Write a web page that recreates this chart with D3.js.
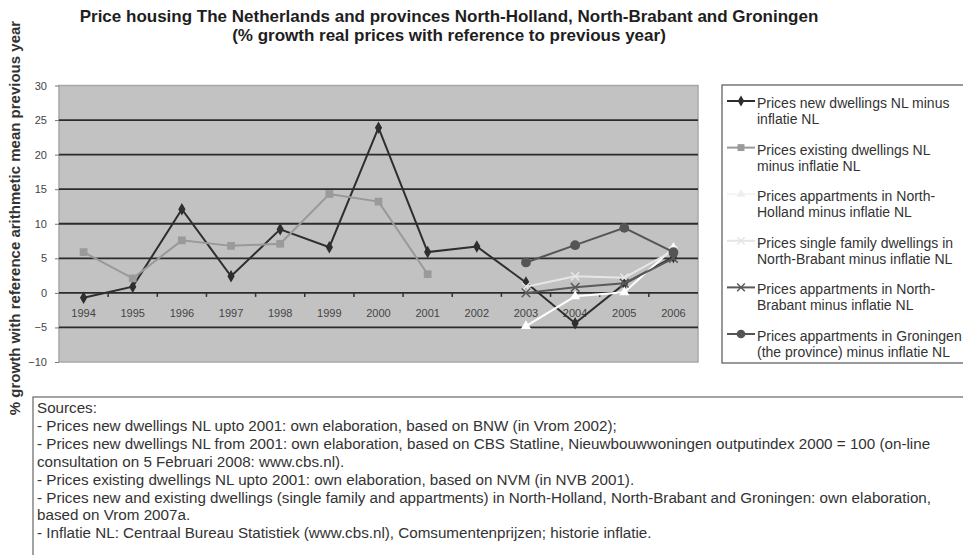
<!DOCTYPE html>
<html>
<head>
<meta charset="utf-8">
<script src="https://cdn.jsdelivr.net/npm/d3@7"></script>
<style>
body{margin:0;background:#fff;}
svg{display:block;}
text{font-family:Arial,"Liberation Sans",sans-serif;}
</style>
</head>
<body>
<svg id="chart"></svg>
<script>
// data
var years=['1994','1995','1996','1997','1998','1999','2000','2001','2002','2003','2004','2005','2006'];
var newNL=[-0.7,0.9,12.1,2.4,9.2,6.6,23.9,5.9,6.7,1.5,-4.4,1.3,5.2];
var existingNL=[5.9,2.1,7.6,6.8,7.1,14.3,13.2,2.7,null,null,null,null,null];
var aptNH=[null,null,null,null,null,null,null,null,null,-4.8,-0.5,0.1,6.5];
var singleNB=[null,null,null,null,null,null,null,null,null,0.9,2.4,2.2,6.1];
var aptNB=[null,null,null,null,null,null,null,null,null,0.0,0.8,1.4,5.0];
var aptGron=[null,null,null,null,null,null,null,null,null,4.4,6.9,9.4,5.9];
var yTicks=[30,25,20,15,10,5,0,-5,-10];

var seriesNames=[
  ['Prices new dwellings NL minus','inflatie NL'],
  ['Prices existing dwellings NL','minus inflatie NL'],
  ['Prices appartments in North-','Holland minus inflatie NL'],
  ['Prices single family dwellings in','North-Brabant minus inflatie NL'],
  ['Prices appartments in North-','Brabant minus inflatie NL'],
  ['Prices appartments in Groningen','(the province) minus inflatie NL']
];
var title=['Price housing The Netherlands and provinces North-Holland, North-Brabant and Groningen',
  '(% growth real prices with reference to previous year)'];
var yTitle='% growth with reference arithmetic mean previous year';
var sources=['Sources:',
  '- Prices new dwellings NL upto 2001: own elaboration, based on BNW (in Vrom 2002);',
  '- Prices new dwellings NL from 2001: own elaboration, based on CBS Statline, Nieuwbouwwoningen outputindex 2000 = 100 (on-line',
  'consultation on 5 Februari 2008: www.cbs.nl).',
  '- Prices existing dwellings NL upto 2001: own elaboration, based on NVM (in NVB 2001).',
  '- Prices new and existing dwellings (single family and appartments) in North-Holland, North-Brabant and Groningen: own elaboration,',
  'based on Vrom 2007a.',
  '- Inflatie NL: Centraal Bureau Statistiek (www.cbs.nl), Comsumentenprijzen; historie inflatie.'];

var W=963,H=555;
var svg=d3.select('#chart').attr('width',W).attr('height',H);

var x=d3.scaleBand().domain(years).range([59,698]).padding(0);
var y=d3.scaleLinear().domain([-10,30]).range([362,85.5]);

// plot background
svg.append('rect').attr('x',59).attr('y',y(30)).attr('width',639).attr('height',y(-10)-y(30))
  .attr('fill','#c2c2c2').attr('stroke','#a8a8a8').attr('stroke-width',1.5);

// gridlines
svg.append('g').selectAll('line').data(yTicks.filter(d=>d<30&&d>-10)).enter().append('line')
  .attr('x1',59).attr('x2',698).attr('y1',d=>y(d)).attr('y2',d=>y(d))
  .attr('stroke','#2b2b2b').attr('stroke-width',1.8);

// y axis
var yAxis=d3.axisLeft(y).tickValues(yTicks).tickSize(4).tickPadding(8);
var gy=svg.append('g').attr('transform','translate(59,0)').call(yAxis);
gy.select('.domain').remove();
gy.selectAll('line').attr('stroke','#777');
gy.selectAll('text').attr('font-family','Arial, Liberation Sans, sans-serif').attr('font-size',11).attr('fill','#444');

// x axis on zero line, ticks between categories
var gx=svg.append('g').attr('transform','translate(0,'+y(0)+')');
gx.selectAll('line').data(years.slice(1)).enter().append('line')
  .attr('x1',d=>x(d)).attr('x2',d=>x(d)).attr('y1',0).attr('y2',4)
  .attr('stroke','#333').attr('stroke-width',1.5);
gx.selectAll('text').data(years).enter().append('text')
  .attr('x',d=>x(d)+x.bandwidth()/2).attr('y',24)
  .attr('text-anchor','middle')
  .attr('font-size',11).attr('fill','#444').text(d=>d);

// series
var styles=[
  {data:newNL,color:'#2e2e2e',sym:d3.symbolDiamond,size:45,markFill:'#2e2e2e'},
  {data:existingNL,color:'#999999',sym:d3.symbolSquare,size:60,markFill:'#9a9a9a'},
  {data:aptNH,color:'#ffffff',sym:d3.symbolTriangle,size:45,markFill:'#ffffff'},
  {data:singleNB,color:'#e6e6e6',sym:d3.symbolX,size:45,markFill:'#e6e6e6'},
  {data:aptNB,color:'#5a5a5a',sym:d3.symbolX,size:50,markFill:'#5a5a5a'},
  {data:aptGron,color:'#555555',sym:d3.symbolCircle,size:75,markFill:'#555555'}
];
var line=d3.line().defined(d=>d.v!=null).x(d=>x(d.k)+x.bandwidth()/2).y(d=>y(d.v));

styles.forEach(function(s){
  var pts=years.map((k,i)=>({k:k,v:s.data[i]}));
  svg.append('path').datum(pts).attr('d',line).attr('fill','none')
    .attr('stroke',s.color).attr('stroke-width',2);
  svg.append('g').selectAll('path').data(pts.filter(d=>d.v!=null)).enter().append('path')
    .attr('d',d3.symbol().type(s.sym).size(s.size))
    .attr('transform',d=>'translate('+(x(d.k)+x.bandwidth()/2)+','+y(d.v)+')')
    .attr('fill',s.markFill).attr('stroke',s.sym===d3.symbolX?s.color:'none')
    .attr('stroke-width',1.5);
});

// legend
svg.append('rect').attr('x',722).attr('y',85).attr('width',260).attr('height',278)
  .attr('fill','#fff').attr('stroke','#555').attr('stroke-width',1.2);
var leg=svg.append('g').selectAll('g').data(styles).enter().append('g')
  .attr('transform',(d,i)=>'translate(0,'+(108+i*46.6)+')');
leg.append('line').attr('x1',727).attr('x2',755).attr('y1',-7).attr('y2',-7)
  .attr('stroke',d=>d.color==='#ffffff'?'#f4f4f4':d.color).attr('stroke-width',2);
leg.append('path').attr('d',d=>d3.symbol().type(d.sym).size(d.size*0.8)())
  .attr('transform','translate(741,-7)').attr('fill',d=>d.color==='#ffffff'?'#eeeeee':d.markFill)
  .attr('stroke',d=>d.sym===d3.symbolX?d.color:'none').attr('stroke-width',1.5);
leg.append('text').attr('font-size',14).attr('fill','#333')
  .selectAll('tspan').data((d,i)=>seriesNames[i]).enter().append('tspan')
  .attr('x',757).attr('y',(d,j)=>j*16).text(d=>d);

// title
svg.append('g').selectAll('text').data(title).enter().append('text')
  .attr('x',449).attr('y',(d,i)=>22+i*19)
  .attr('text-anchor','middle').attr('font-weight','bold').attr('font-size',17).attr('fill','#1e1e1e')
  .text(d=>d);

// y title
svg.append('text').attr('transform','translate(20,218) rotate(-90)')
  .attr('text-anchor','middle')
  .attr('font-weight','bold').attr('font-size',15).attr('fill','#333').text(yTitle);

// sources box
svg.append('rect').attr('x',33).attr('y',397).attr('width',950).attr('height',180)
  .attr('fill','#fff').attr('stroke','#666').attr('stroke-width',1.2);
svg.append('g').selectAll('text').data(sources).enter().append('text')
  .attr('x',37).attr('y',(d,i)=>413+i*17.9)
  .attr('font-size',15.2).attr('fill','#333').text(d=>d);
</script>
</body>
</html>
